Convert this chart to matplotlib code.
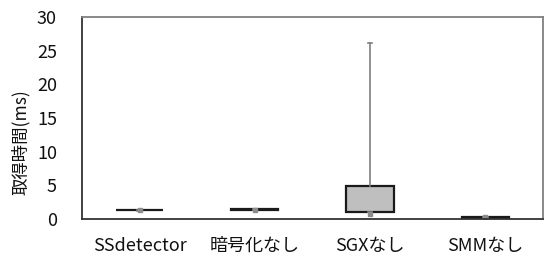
import matplotlib
matplotlib.use('Agg')
import matplotlib.pyplot as plt

plt.rcParams['font.family'] = ['Noto Sans CJK JP', 'DejaVu Sans']

# box plot values (ms)
categories = ['SSdetector', '暗号化なし', 'SGXなし', 'SMMなし']
whislo = [1.26, 1.35, 1.0, 0.18]
q1 = [1.27, 1.36, 1.1, 0.2]
med = [1.29, 1.38, 1.15, 0.24]
q3 = [1.32, 1.42, 4.85, 0.3]
whishi = [1.33, 1.43, 26.2, 0.31]
means = [1.3, 1.4, 0.8, 0.25]
yticks = [0, 5, 10, 15, 20, 25, 30]

stats = []
for i, name in enumerate(categories):
    stats.append({'label': name, 'whislo': whislo[i], 'q1': q1[i], 'med': med[i],
                  'q3': q3[i], 'whishi': whishi[i], 'mean': means[i]})

fig = plt.figure(figsize=(5.44, 2.58), dpi=100)
ax = fig.add_axes([0.1507, 0.151, 0.8473, 0.783])

ax.bxp(stats, positions=range(len(categories)), widths=0.41, capwidths=0.04,
       showmeans=True, showfliers=False, patch_artist=True,
       boxprops=dict(facecolor='#bfbfbf', edgecolor='#1a1a1a', linewidth=1.6),
       medianprops=dict(color='#bfbfbf', linewidth=0),
       whiskerprops=dict(color='#7f7f7f', linewidth=1.2),
       capprops=dict(color='#7f7f7f', linewidth=1.2),
       meanprops=dict(marker='s', markersize=3, markerfacecolor='#8c8c8c',
                      markeredgecolor='#8c8c8c'))

ax.set_xlim(-0.5, 3.5)
ax.set_ylim(0, 30)
ax.set_yticks(yticks)
ax.set_xticks(range(len(categories)))
ax.set_xticklabels(categories)
ax.tick_params(axis='both', length=0, labelsize=13, colors='#111111')
ax.tick_params(axis='y', pad=18)
ax.tick_params(axis='x', pad=13)

ax.set_ylabel('取得時間(ms)', fontsize=12.5, color='#111111')
ax.yaxis.set_label_coords(-0.112, 0.38)

ax.spines['left'].set_color('#333333')
ax.spines['bottom'].set_color('#333333')
ax.spines['top'].set_color('#808080')
ax.spines['right'].set_color('#808080')
for s in ax.spines.values():
    s.set_linewidth(1.3)

plt.savefig('out.png')
plt.close()
